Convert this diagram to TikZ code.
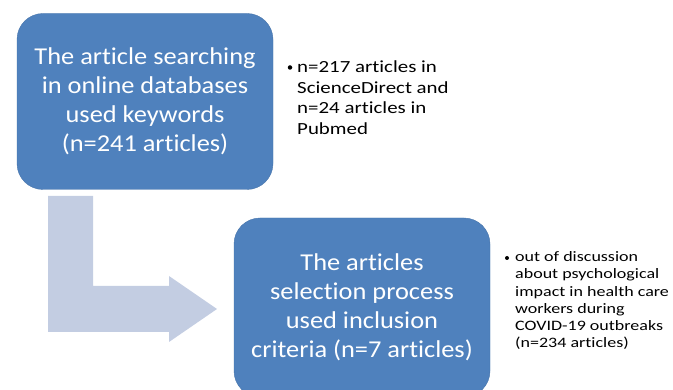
\documentclass[tikz,border=0pt]{standalone}
\usepackage{fontspec}
\setmainfont{Carlito}[Ligatures=NoCommon]
\newfontfamily\boxfont{Carlito}[FakeStretch=1.09,Ligatures=NoCommon]
\newfontfamily\bulletafont{Carlito}[FakeStretch=1.23,Ligatures=NoCommon]
\newfontfamily\bulletbfont{Carlito}[FakeStretch=1.25,Ligatures=NoCommon]
\definecolor{boxblue}{HTML}{4F81BD}
\definecolor{arrowgray}{HTML}{C3CDE2}
\begin{document}
\begin{tikzpicture}[x=1pt,y=-1pt,
  stagebox/.style={fill=boxblue,draw=boxblue!90!black,line width=0.4pt,rounded corners=26pt,
    minimum width=256pt,minimum height=176pt,inner sep=0pt,text=white,align=center,
    font=\boxfont\fontsize{24.2}{29}\selectfont},
  bigbullet/.style={anchor=north west,inner sep=0pt,align=left,font=\bulletafont\fontsize{17}{20.5}\selectfont},
  smallbullet/.style={anchor=north west,inner sep=0pt,align=left,font=\bulletbfont\fontsize{14.4}{17.2}\selectfont},
  dot/.style={circle,fill=black,inner sep=0pt}]
\useasboundingbox (0,0) rectangle (673,390);
% bent arrow
\fill[arrowgray] (48,196) -- (93,196) -- (93,286) -- (169,286) -- (169,276) -- (217,309)
  -- (169,342) -- (169,332) -- (48,332) -- cycle;
\node[stagebox] (b1) at (145,101.5) {The article searching\\in online databases\\used keywords\\(n=241 articles)};
\node[stagebox,minimum height=179pt] (b2) at (362,307.5) {The articles\\selection process\\used inclusion\\criteria (n=7 articles)};
\node[bigbullet] (t1) at (297,60.5) {n=217 articles in\\ScienceDirect and\\n=24 articles in\\Pubmed};
\node[dot,minimum size=4.5pt] (d1) at (290,67.5) {};
\node[smallbullet] (t2) at (515,251.5) {out of discussion\\about psychological\\impact in health care\\workers during\\COVID-19 outbreaks\\(n=234 articles)};
\node[dot,minimum size=4pt] (d2) at (507,258) {};
\end{tikzpicture}
\end{document}
